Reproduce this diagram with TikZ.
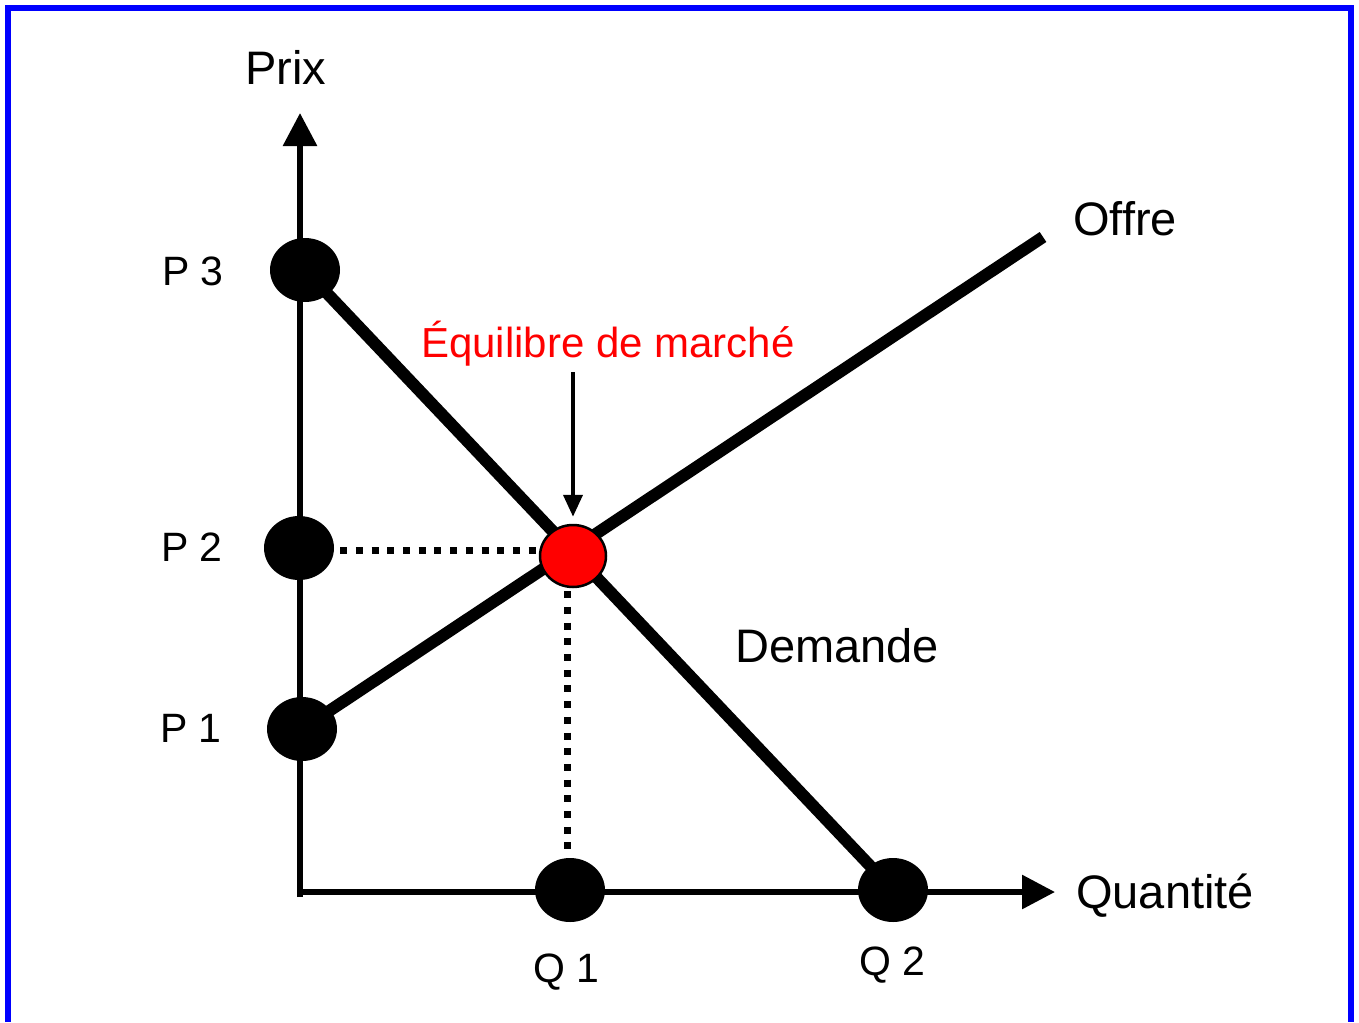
\documentclass[tikz,border=0pt]{standalone}
\usepackage{fontspec}
\setmainfont{Liberation Sans}
\usetikzlibrary{arrows.meta,shapes.geometric,backgrounds}
\definecolor{frameblue}{RGB}{0,0,255}
\definecolor{eqred}{RGB}{255,0,0}
\begin{document}
\begin{tikzpicture}[x=1pt,y=-1pt,
 dot/.style={ellipse,fill=black,minimum width=70pt,minimum height=64pt,inner sep=0pt},
 eqdot/.style={ellipse,fill=eqred,draw=black,line width=2.5pt,minimum width=66pt,minimum height=62pt,inner sep=0pt},
 axis/.style={line width=6pt,-{Triangle[length=33pt,width=33pt]}},
 curve/.style={line width=12pt},
 guide/.style={line width=7pt,dash pattern=on 7pt off 8.7pt},
 pointer/.style={line width=4pt,-{Triangle[length=22pt,width=19pt]}},
 big/.style={font=\fontsize{47}{52}\selectfont,inner sep=0pt,anchor=base west},
 small/.style={font=\fontsize{41}{46}\selectfont,inner sep=0pt,anchor=base west},
]
\useasboundingbox (0,0) rectangle (1359,1022);

% coordinates
\coordinate (O) at (300,892);
\coordinate (Ybot) at (300,897);
\coordinate (Ytop) at (300,113);
\coordinate (Xstart) at (297,892);
\coordinate (Xend) at (1055,892);
\coordinate (Send) at (1043,237);
\coordinate (Ptr) at (573,372);

% points
\node[dot] (P3) at (305,270) {};
\node[dot] (P2) at (299,548) {};
\node[dot] (P1) at (302,729) {};
\node[dot] (Q1) at (570,890) {};
\node[dot] (Q2) at (893,890) {};
\node[eqdot] (E) at (573,556) {};

% background, frame and lines under the dots
\begin{pgfonlayer}{background}
\fill[white] (0,0) rectangle (1359,1022);
\draw[frameblue,line width=6pt] (8,1022) -- (8,8) -- (1351,8) -- (1351,1022);
\draw[axis] (Ybot) -- (Ytop);
\draw[axis] (Xstart) -- (Xend);
\draw[curve] (P3.center) -- (Q2.center);
\draw[curve] (P1.center) -- (Send);
\end{pgfonlayer}

% dotted guides
\draw[guide] ([xshift=6pt,yshift=-2pt]P2.east) -- ([xshift=-3pt,yshift=-2pt]P2.east -| E.west);
\draw[guide] ([xshift=-6pt,yshift=-3pt]E.south) -- ([xshift=-3pt,yshift=3pt]Q1.north);

% pointer
\draw[pointer] (Ptr) -- ([yshift=7pt]E.north);

% labels
\node[big] (prix) at (245,85) {Prix};
\node[big] (offre) at (1073,235) {Offre};
\node[big] (demande) at (735,662) {Demande};
\node[big] (quant) at (1076,908) {Quantité};
\node[small] (lp3) at (162,285) {P 3};
\node[small] (lp2) at (161,561) {P 2};
\node[small] (lp1) at (160,742) {P 1};
\node[small] (lq1) at (533,982) {Q 1};
\node[small] (lq2) at (859,975) {Q 2};
\node[inner sep=0pt,anchor=base west,text=eqred,font=\fontsize{42}{46}\selectfont] (eqlab) at (421,357) {Équilibre de marché};
\end{tikzpicture}
\end{document}
